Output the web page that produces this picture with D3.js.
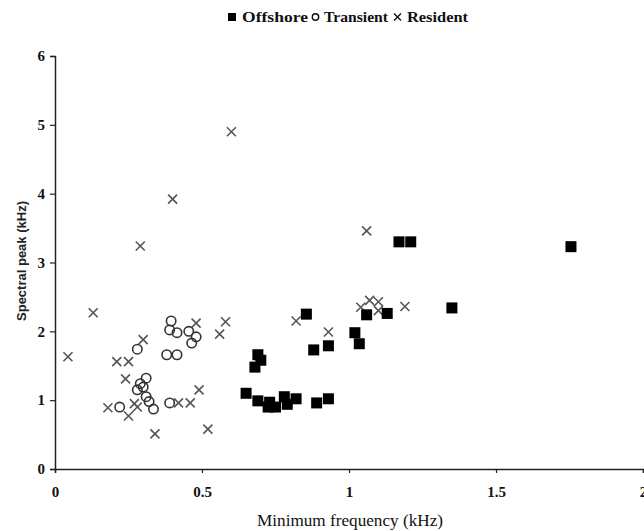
<!DOCTYPE html>
<html><head><meta charset="utf-8">
<script src="https://cdn.jsdelivr.net/npm/d3@7"></script>
<style>body{margin:0;background:#fff}svg{display:block}</style>
</head><body>
<script>
const offshoreX = [1.17,1.21,1.755,1.35,1.02,1.035,1.06,1.13,0.855,0.88,0.93,0.69,0.70,0.68,0.65,0.69,0.725,0.75,0.73,0.78,0.79,0.82,0.89,0.93];
const offshoreY = [3.30,3.30,3.23,2.34,1.98,1.82,2.24,2.26,2.25,1.73,1.79,1.66,1.58,1.48,1.10,0.99,0.90,0.90,0.97,1.05,0.94,1.02,0.96,1.02];
const transientX = [0.28,0.395,0.39,0.415,0.455,0.48,0.465,0.38,0.415,0.31,0.29,0.28,0.30,0.31,0.32,0.335,0.22,0.39];
const transientY = [1.74,2.15,2.02,1.98,2.00,1.92,1.83,1.66,1.66,1.32,1.24,1.15,1.19,1.05,0.98,0.87,0.90,0.96];
const residentX = [0.044,0.13,0.29,0.40,0.60,0.21,0.25,0.30,0.48,0.58,0.56,0.24,0.49,0.18,0.25,0.28,0.42,0.46,0.34,0.52,0.27,0.82,0.93,1.04,1.07,1.10,1.10,1.06,1.19];
const residentY = [1.63,2.27,3.24,3.92,4.90,1.56,1.56,1.88,2.12,2.14,1.96,1.31,1.15,0.89,0.77,0.90,0.96,0.96,0.51,0.58,0.95,2.15,1.99,2.35,2.45,2.43,2.30,3.46,2.36];
const xTicks = [0, 0.5, 1, 1.5, 2];
const yTicks = [0, 1, 2, 3, 4, 5, 6];
const seriesNames = ["Offshore", "Transient", "Resident"];

const W = 644, H = 531;
const svg = d3.select("body").append("svg").attr("width", W).attr("height", H);
const x = d3.scaleLinear().domain([0, 2]).range([55, 643]);
const y = d3.scaleLinear().domain([0, 6]).range([469, 56]);
const serif = "'Liberation Serif','Times New Roman',serif";

// axes
const xa = svg.append("g").attr("transform", "translate(0,469)")
  .call(d3.axisBottom(x).tickValues(xTicks).tickFormat(d3.format("")).tickSize(4).tickPadding(13));
const ya = svg.append("g").attr("transform", "translate(55,0)")
  .call(d3.axisLeft(y).tickValues(yTicks).tickFormat(d3.format("d")).tickSize(5).tickPadding(5));
[xa, ya].forEach(a => {
  a.select(".domain").attr("stroke", "#222").attr("stroke-width", 1.5);
  a.selectAll(".tick line").attr("stroke", "#222").attr("stroke-width", 1.2);
  a.selectAll("text").attr("font-family", serif).attr("font-weight", "bold").attr("font-size", 15).attr("fill", "#111");
});

// labels
svg.append("text").attr("x", 257).attr("y", 526)
  .attr("font-family", serif).attr("font-size", 17).attr("fill", "#111")
  .attr("textLength", 186).attr("lengthAdjust", "spacingAndGlyphs").text("Minimum frequency (kHz)");
svg.append("text").attr("transform", "translate(26,261) rotate(-90)").attr("text-anchor", "middle")
  .attr("font-family", "'Liberation Sans',Arial,sans-serif").attr("font-weight", "bold").attr("font-size", 13).attr("fill", "#222")
  .text("Spectral peak (kHz)");

// marks
const off = d3.zip(offshoreX, offshoreY), tra = d3.zip(transientX, transientY), res = d3.zip(residentX, residentY);
const cross = (g, cx, cy, s) => g.append("path").attr("d", `M${cx-s},${cy-s}L${cx+s},${cy+s}M${cx-s},${cy+s}L${cx+s},${cy-s}`)
  .attr("stroke", "#555").attr("stroke-width", 1.6).attr("fill", "none");
const gR = svg.append("g");
res.forEach(d => cross(gR, x(d[0]), y(d[1]), 4.5));
svg.append("g").selectAll("circle").data(tra).join("circle")
  .attr("cx", d => x(d[0])).attr("cy", d => y(d[1])).attr("r", 4.7)
  .attr("fill", "none").attr("stroke", "#333").attr("stroke-width", 1.6);
svg.append("g").selectAll("rect").data(off).join("rect")
  .attr("x", d => x(d[0]) - 5.5).attr("y", d => y(d[1]) - 5.5).attr("width", 11).attr("height", 11).attr("fill", "#000");

// legend
const lg = svg.append("g").attr("font-family", serif).attr("font-size", 15).attr("font-weight", "bold").attr("fill", "#111");
lg.append("rect").attr("x", 228).attr("y", 13).attr("width", 8).attr("height", 8).attr("fill", "#000");
lg.append("text").attr("x", 242).attr("y", 22).attr("textLength", 66).attr("lengthAdjust", "spacingAndGlyphs").text(seriesNames[0]);
lg.append("circle").attr("cx", 315.5).attr("cy", 17).attr("r", 3.2).attr("fill", "none").attr("stroke", "#111").attr("stroke-width", 1.4);
lg.append("text").attr("x", 324).attr("y", 22).attr("textLength", 64).attr("lengthAdjust", "spacingAndGlyphs").text(seriesNames[1]);
lg.append("path").attr("d", "M394,13.5L401,20.5M394,20.5L401,13.5").attr("stroke", "#111").attr("stroke-width", 1.4);
lg.append("text").attr("x", 407).attr("y", 22).attr("textLength", 61).attr("lengthAdjust", "spacingAndGlyphs").text(seriesNames[2]);
</script>
</body></html>
